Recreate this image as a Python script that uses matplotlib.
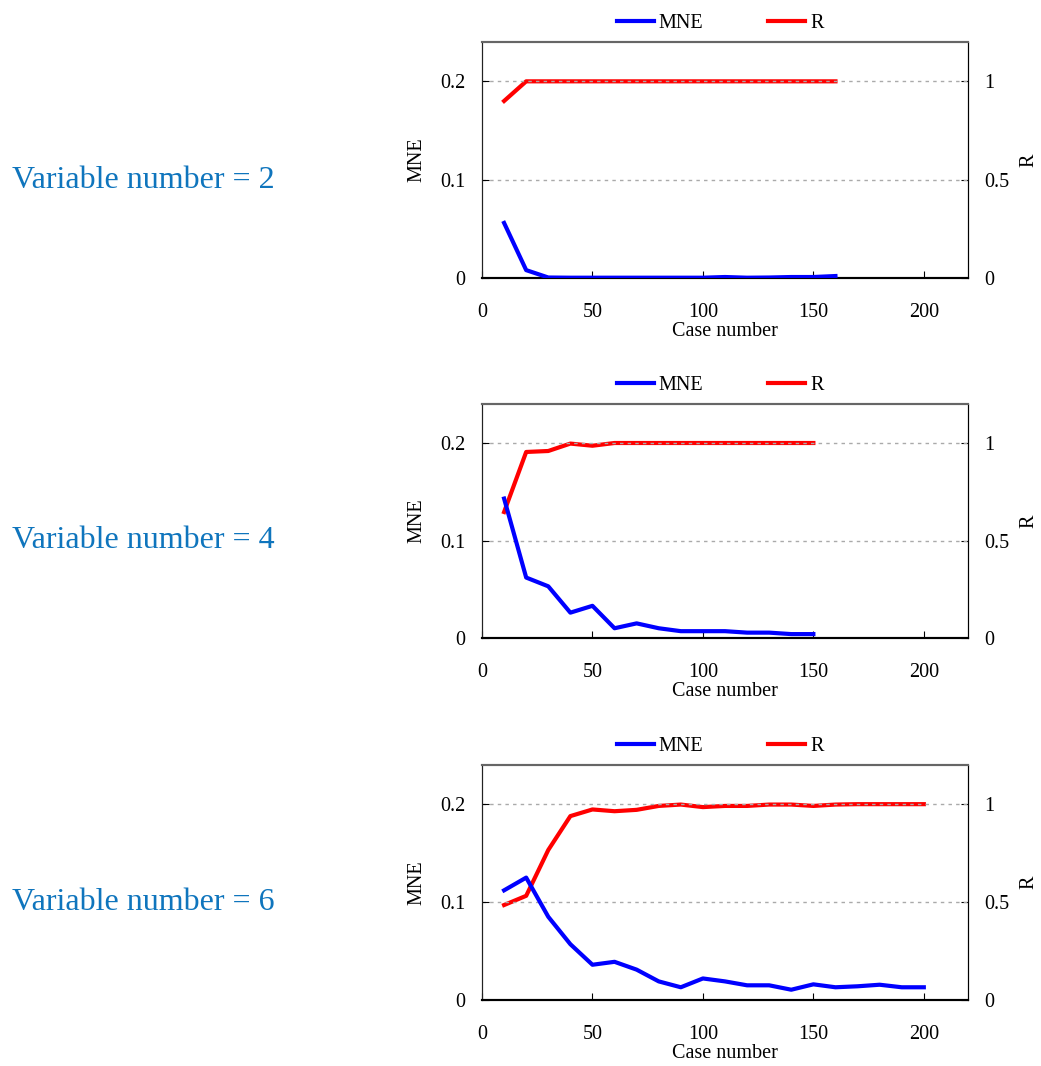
import matplotlib
matplotlib.use("Agg")
from matplotlib import pyplot as plt

plt.rcParams.update({"font.family": "serif", "font.serif": ["Liberation Serif", "DejaVu Serif"]})

# case numbers and results for each variable count
cases_2 = [10, 20, 30, 40, 50, 60, 70, 80, 90, 100, 110, 120, 130, 140, 150, 160]
mne_2 = [0.056, 0.008, 0.0005, 0.0003, 0.0003, 0.0003, 0.0003, 0.0003, 0.0003, 0.0003,
         0.001, 0.0003, 0.0005, 0.001, 0.001, 0.002]
r_2 = [0.90, 1.0, 1.0, 1.0, 1.0, 1.0, 1.0, 1.0, 1.0, 1.0, 1.0, 1.0, 1.0, 1.0, 1.0, 1.0]

cases_4 = [10, 20, 30, 40, 50, 60, 70, 80, 90, 100, 110, 120, 130, 140, 150]
mne_4 = [0.143, 0.062, 0.053, 0.026, 0.033, 0.010, 0.015, 0.010, 0.007, 0.007,
         0.007, 0.0055, 0.0055, 0.004, 0.004]
r_4 = [0.646, 0.954, 0.959, 0.997, 0.986, 1.0, 1.0, 1.0, 1.0, 1.0, 1.0, 1.0, 1.0, 1.0, 1.0]

cases_6 = [10, 20, 30, 40, 50, 60, 70, 80, 90, 100, 110, 120, 130, 140, 150, 160, 170,
           180, 190, 200]
mne_6 = [0.112, 0.125, 0.085, 0.057, 0.036, 0.039, 0.031, 0.019, 0.013, 0.022, 0.019,
         0.015, 0.015, 0.0105, 0.016, 0.013, 0.014, 0.0156, 0.013, 0.013]
r_6 = [0.485, 0.532, 0.766, 0.939, 0.973, 0.964, 0.971, 0.991, 0.998, 0.985, 0.991,
       0.991, 0.998, 0.998, 0.991, 0.998, 1.0, 1.0, 1.0, 1.0]

panels = [
    ("Variable number = 2", cases_2, mne_2, r_2),
    ("Variable number = 4", cases_4, mne_4, r_4),
    ("Variable number = 6", cases_6, mne_6, r_6),
]

W, H = 1041, 1066
fig = plt.figure(figsize=(W / 100, H / 100), dpi=100)

# axes boxes in pixels: (top, bottom), label centre y
boxes = [(42, 278, 180), (404, 638, 541), (765, 1000, 903)]
left_px, right_px = 482, 968

for (title, x, mne, r), (top, bot, label_y) in zip(panels, boxes):
    ax = fig.add_axes([left_px / W, 1 - bot / H, (right_px - left_px) / W, (bot - top) / H])
    ax2 = ax.twinx()

    l1, = ax.plot(x, mne, color="#0000ff", lw=3, label="MNE", zorder=3)
    l2, = ax2.plot(x, r, color="#ff0000", lw=3, label="R")

    ax.set_xlim(0, 220)
    ax.set_ylim(0, 0.24)
    ax2.set_ylim(0, 1.2)
    ax.set_xticks([0, 50, 100, 150, 200])
    ax.set_yticks([0, 0.1, 0.2])
    ax.set_yticklabels(["0", "0.1", "0.2"])
    ax2.set_yticks([0, 0.5, 1])
    ax2.set_yticklabels(["0", "0.5", "1"])
    ax.yaxis.grid(True, color="#aaaaaa", ls=(0, (2.5, 3)), lw=1)

    ax.tick_params(axis="x", direction="in", length=5, pad=18, labelsize=14.5, top=False)
    ax.tick_params(axis="y", direction="in", length=5, pad=12, labelsize=14.5)
    ax2.tick_params(axis="y", direction="in", length=5, pad=12, labelsize=14.5)

    for a in (ax, ax2):
        a.spines["top"].set_color("#666666")
        a.spines["top"].set_linewidth(1.5)
        a.spines["bottom"].set_linewidth(1.5)
        a.spines["left"].set_color("#222222")

    ax.set_xlabel("Case number", fontsize=14.5, labelpad=0)
    ax.set_ylabel("MNE", fontsize=14.5, labelpad=10)
    ax2.set_ylabel("R", fontsize=14.5, labelpad=7)

    ax.set_zorder(ax2.get_zorder() + 1)
    ax.patch.set_visible(False)

    ax.legend(handles=[l1, l2], loc="lower center", bbox_to_anchor=(0.49, 1.0), ncol=2,
              frameon=False, fontsize=14.5, handlelength=1.85, handletextpad=0.25,
              columnspacing=3.2, borderaxespad=0.05)

    fig.text(12 / W, 1 - label_y / H, title, fontsize=23, color="#0f75bd",
             ha="left", va="center")

fig.savefig("out.png", dpi=100)
